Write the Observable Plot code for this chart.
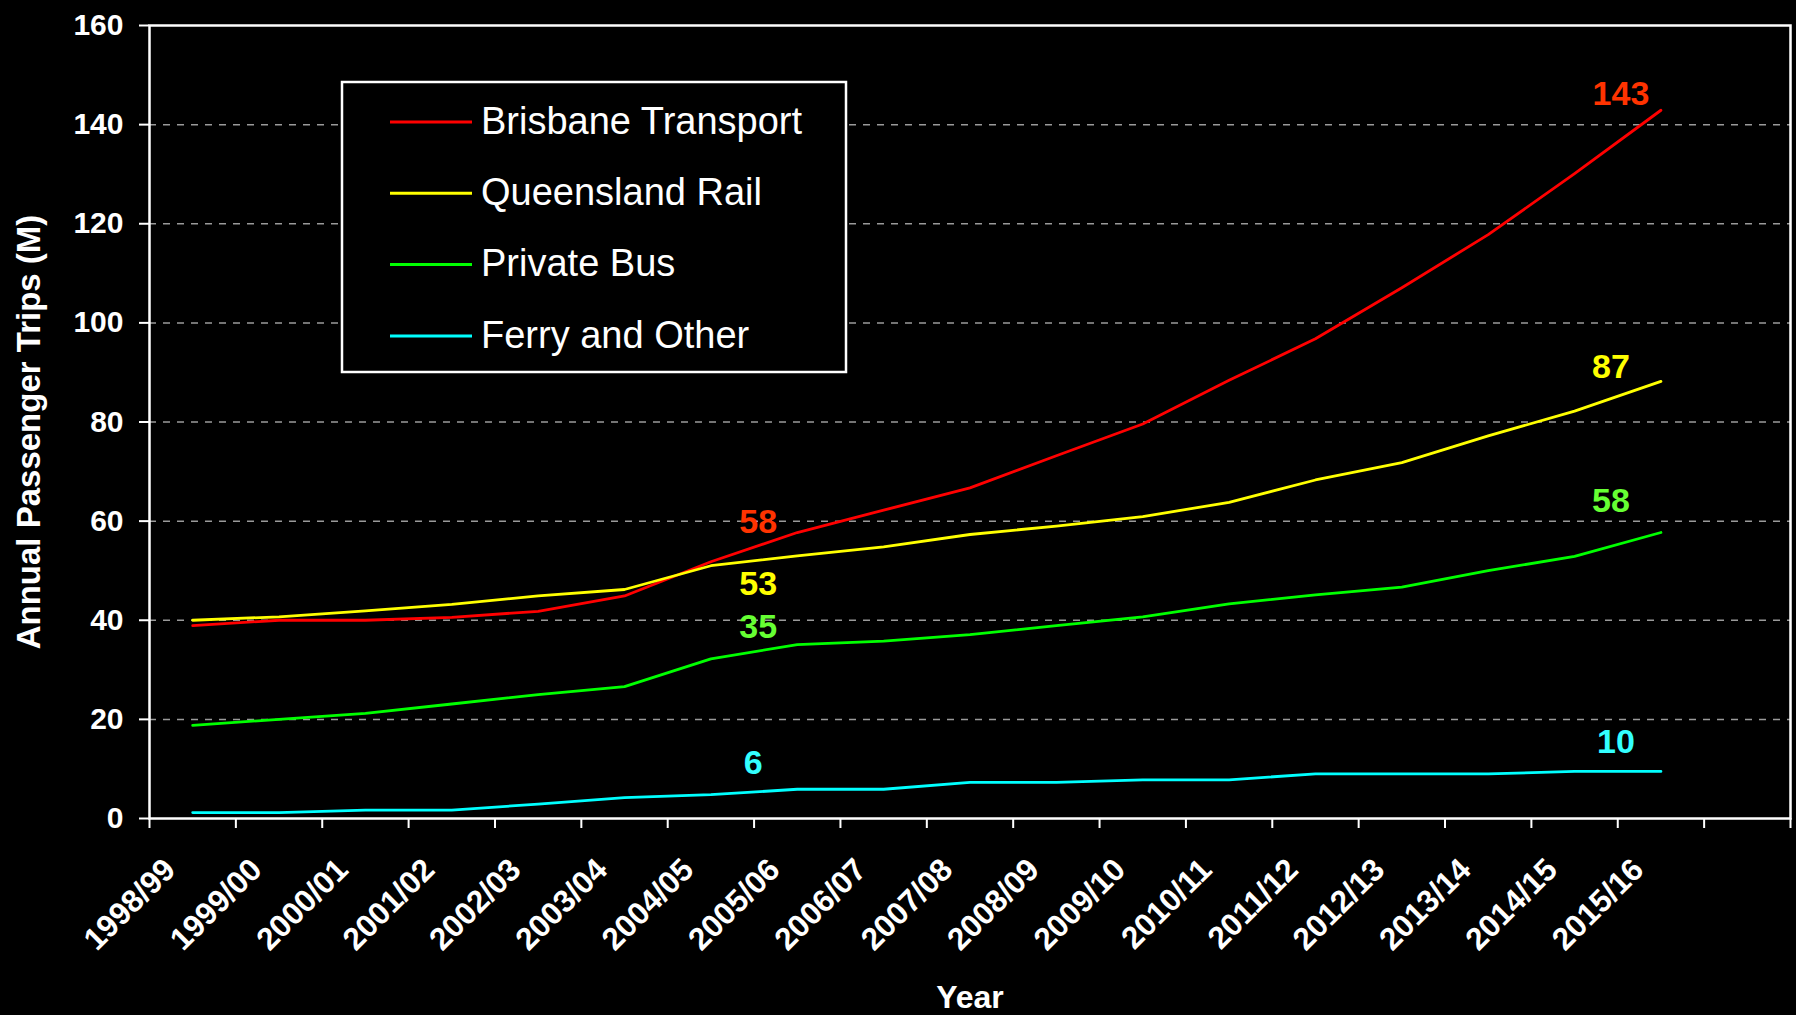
<!DOCTYPE html>
<html><head><meta charset="utf-8">
<script src="https://cdn.jsdelivr.net/npm/d3@7"></script>
<script src="https://cdn.jsdelivr.net/npm/@observablehq/plot@0.6"></script>
<style>
html,body{margin:0;padding:0;background:#000;}
#wrap{position:relative;width:1796px;height:1015px;background:#000;}
</style></head>
<body><div id="wrap"></div>
<script>
// ---- data ----
const years = ["1998/99","1999/00","2000/01","2001/02","2002/03","2003/04","2004/05","2005/06","2006/07","2007/08","2008/09","2009/10","2010/11","2011/12","2012/13","2013/14","2014/15","2015/16"];
const seriesNames = ["Brisbane Transport","Queensland Rail","Private Bus","Ferry and Other"];
const seriesColors = ["#ff0000","#ffff00","#00ff00","#00ffff"];
const brisbaneTransport = [38.9, 40.0, 40.0, 40.6, 41.8, 44.9, 51.8, 57.7, 62.2, 66.7, 73.2, 79.6, 88.4, 96.8, 107.1, 117.8, 130.1, 142.9];
const queenslandRail   = [40.0, 40.7, 41.9, 43.2, 44.9, 46.2, 51.0, 53.0, 54.8, 57.3, 59.0, 60.9, 63.8, 68.3, 71.8, 77.2, 82.2, 88.2];
const privateBus       = [18.8, 20.0, 21.2, 23.1, 25.0, 26.6, 32.2, 35.1, 35.8, 37.1, 38.9, 40.7, 43.3, 45.1, 46.7, 50.0, 52.9, 57.7];
const ferryAndOther    = [1.2, 1.2, 1.7, 1.7, 2.9, 4.2, 4.8, 5.9, 5.9, 7.3, 7.3, 7.8, 7.8, 9.0, 9.0, 9.0, 9.5, 9.5];
const yTicks = [0, 20, 40, 60, 80, 100, 120, 140, 160];
const labelSeries = ["Brisbane Transport","Queensland Rail","Private Bus","Ferry and Other","Brisbane Transport","Queensland Rail","Private Bus","Ferry and Other"];
const labelYears  = ["2005/06","2005/06","2005/06","2005/06","2015/16","2015/16","2015/16","2015/16"];
const labelTexts  = ["58","53","35","6","143","87","58","10"];
const labelColors = ["#ff3300","#ffff00","#66ff33","#33ffff","#ff3300","#ffff00","#66ff33","#33ffff"];
const yTitle = "Annual Passenger Trips (M)";
const xTitle = "Year";

// ---- build ----
const seriesValues = [brisbaneTransport, queenslandRail, privateBus, ferryAndOther];
const rows = seriesNames.flatMap((s, k) => years.map((yr, i) => ({series: s, i, value: seriesValues[k][i]})));
const valueOf = (s, yr) => seriesValues[seriesNames.indexOf(s)][years.indexOf(yr)];
const labelRows = labelTexts.map((t, j) => ({text: t, series: labelSeries[j], i: years.indexOf(labelYears[j]), value: valueOf(labelSeries[j], labelYears[j]), color: labelColors[j]}));
// label nudges (pixels), styling only
const nudges = [[-39,0],[-39,39],[-39,-7],[-44,-15],[-40,-5],[-50,-3],[-50,-21],[-45,-18]];
const boundaries = d3.range(years.length + 2).map(k => k - 0.5);
const font = "'Liberation Sans', Arial, sans-serif";

const marks = [
  Plot.ruleY(yTicks.slice(1, -1), {stroke: "#9a9a9a", strokeWidth: 1.5, strokeDasharray: "7,7"}),
  Plot.axisY({ticks: yTicks, tickSize: 10, tickPadding: 16, fontSize: 30, fontWeight: "bold", stroke: "white", strokeWidth: 2, label: null, tickFormat: d => String(d)}),
  Plot.axisX({ticks: boundaries, tickSize: 10, tickFormat: () => "", label: null, stroke: "white", strokeWidth: 2}),
  Plot.text(d3.range(years.length), {x: d => d, text: d => years[d], frameAnchor: "bottom", rotate: -45, textAnchor: "end", lineAnchor: "bottom", dx: -15.5, dy: 53, fontSize: 31.5, fontWeight: "bold", fill: "white"}),
  Plot.text([yTitle], {frameAnchor: "left", rotate: -90, textAnchor: "middle", lineAnchor: "bottom", dx: -109.5, dy: 10, fontSize: 33, fontWeight: "bold", fill: "white"}),
  Plot.text([xTitle], {frameAnchor: "bottom", textAnchor: "middle", lineAnchor: "bottom", dy: 189, fontSize: 32, fontWeight: "bold", fill: "white"}),
  ...seriesNames.map((s, k) => Plot.line(rows.filter(r => r.series === s), {x: "i", y: "value", stroke: seriesColors[k], strokeWidth: 2.8})),
  ...labelRows.map((r, j) => Plot.text([r], {x: "i", y: "value", text: "text", fill: r.color, fontSize: 34, fontWeight: "bold", textAnchor: "middle", lineAnchor: "bottom", dx: nudges[j][0], dy: nudges[j][1]})),
  Plot.frame({stroke: "white", strokeWidth: 2.5})
];

const svg = Plot.plot({
  width: 1796, height: 1015,
  marginLeft: 149, marginRight: 6, marginTop: 25, marginBottom: 197,
  style: {background: "black", color: "white", fontFamily: font},
  x: {type: "linear", domain: [-0.5, years.length + 0.5], axis: null},
  y: {domain: [0, 160], axis: null},
  marks
});
document.getElementById("wrap").appendChild(svg);

// legend drawn inside the plot svg
const lg = d3.select(svg).append("g").attr("font-family", font).attr("text-anchor", "start");
lg.append("rect").attr("x", 342).attr("y", 82).attr("width", 504).attr("height", 290)
  .attr("fill", "black").attr("stroke", "white").attr("stroke-width", 2.5);
seriesNames.forEach((s, k) => {
  const yy = 122 + k * 71.3;
  lg.append("line").attr("x1", 390).attr("x2", 472).attr("y1", yy).attr("y2", yy)
    .attr("stroke", seriesColors[k]).attr("stroke-width", 3);
  lg.append("text").attr("x", 481).attr("y", yy + 11.7).attr("fill", "white")
    .attr("text-anchor", "start").attr("font-size", 38).text(s);
});
</script></body></html>
